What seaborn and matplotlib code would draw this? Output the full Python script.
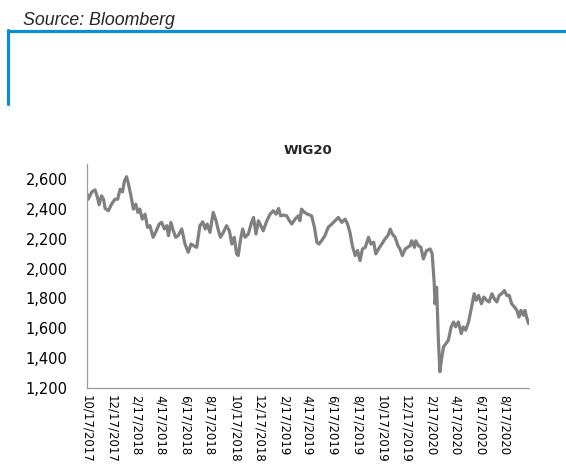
import matplotlib
matplotlib.use("Agg")
import matplotlib.pyplot as plt
from matplotlib.lines import Line2D
import seaborn as sns
import pandas as pd

# ---------------- data ----------------
dates = [
    "2017-10-17", "2017-10-20", "2017-10-29", "2017-11-06", "2017-11-12", "2017-11-16",
    "2017-11-22", "2017-11-27", "2017-12-01", "2017-12-09", "2017-12-16", "2017-12-25",
    "2018-01-01", "2018-01-07", "2018-01-13", "2018-01-18", "2018-01-23", "2018-01-27",
    "2018-02-03", "2018-02-09", "2018-02-15", "2018-02-20", "2018-02-25", "2018-03-03",
    "2018-03-10", "2018-03-16", "2018-03-22", "2018-03-30", "2018-04-05", "2018-04-14",
    "2018-04-20", "2018-04-27", "2018-05-03", "2018-05-07", "2018-05-13", "2018-05-19",
    "2018-05-25", "2018-05-31", "2018-06-09", "2018-06-17", "2018-06-25", "2018-07-02",
    "2018-07-08", "2018-07-16", "2018-07-24", "2018-07-31", "2018-08-06", "2018-08-11",
    "2018-08-18", "2018-08-26", "2018-09-02", "2018-09-08", "2018-09-13", "2018-09-20",
    "2018-09-28", "2018-10-05", "2018-10-11", "2018-10-17", "2018-10-23", "2018-10-27",
    "2018-11-02", "2018-11-07", "2018-11-13", "2018-11-21", "2018-11-29", "2018-12-04",
    "2018-12-10", "2018-12-16", "2018-12-22", "2018-12-28", "2019-01-06", "2019-01-14",
    "2019-01-22", "2019-01-29", "2019-02-04", "2019-02-09", "2019-02-16", "2019-02-24",
    "2019-03-03", "2019-03-09", "2019-03-17", "2019-03-25", "2019-03-29", "2019-04-02",
    "2019-04-09", "2019-04-17", "2019-04-27", "2019-05-04", "2019-05-10", "2019-05-15",
    "2019-05-22", "2019-05-30", "2019-06-07", "2019-06-16", "2019-06-24", "2019-07-02",
    "2019-07-11", "2019-07-19", "2019-07-25", "2019-07-31", "2019-08-06", "2019-08-13",
    "2019-08-19", "2019-08-25", "2019-08-31", "2019-09-07", "2019-09-15", "2019-09-21",
    "2019-09-28", "2019-10-03", "2019-10-10", "2019-10-18", "2019-10-26", "2019-11-02",
    "2019-11-08", "2019-11-13", "2019-11-20", "2019-11-27", "2019-12-02", "2019-12-08",
    "2019-12-15", "2019-12-27", "2019-12-31", "2020-01-07", "2020-01-10", "2020-01-17",
    "2020-01-23", "2020-01-29", "2020-02-06", "2020-02-15", "2020-02-20", "2020-02-25",
    "2020-02-27", "2020-03-02", "2020-03-06", "2020-03-10", "2020-03-15", "2020-03-19",
    "2020-03-25", "2020-03-31", "2020-04-07", "2020-04-13", "2020-04-18", "2020-04-25",
    "2020-05-02", "2020-05-07", "2020-05-13", "2020-05-20", "2020-05-26", "2020-06-03",
    "2020-06-08", "2020-06-14", "2020-06-21", "2020-06-27", "2020-07-04", "2020-07-10",
    "2020-07-17", "2020-07-23", "2020-07-29", "2020-08-04", "2020-08-10", "2020-08-17",
    "2020-08-23", "2020-08-29", "2020-09-04", "2020-09-11", "2020-09-17", "2020-09-22",
    "2020-09-27", "2020-10-03", "2020-10-07", "2020-10-11", "2020-10-16",
]
wig20 = [
    2500, 2464, 2513, 2527, 2476, 2427,
    2487, 2464, 2402, 2387, 2427, 2464,
    2464, 2531, 2513, 2587, 2615, 2576,
    2487, 2398, 2431, 2376, 2398, 2331,
    2364, 2276, 2287, 2209, 2242, 2298,
    2309, 2265, 2287, 2220, 2309, 2253,
    2209, 2220, 2265, 2164, 2109, 2164,
    2153, 2142, 2287, 2313, 2265, 2298,
    2242, 2376, 2320, 2253, 2209, 2242,
    2287, 2253, 2164, 2209, 2098, 2087,
    2198, 2265, 2209, 2231, 2309, 2342,
    2231, 2320, 2287, 2253, 2320, 2364,
    2387, 2364, 2402, 2353, 2358, 2353,
    2320, 2298, 2331, 2353, 2320, 2398,
    2376, 2364, 2353, 2276, 2176, 2164,
    2187, 2220, 2276, 2298, 2320, 2342,
    2309, 2331, 2298, 2242, 2153, 2087,
    2120, 2053, 2131, 2142, 2209, 2164,
    2176, 2098, 2131, 2164, 2198, 2220,
    2264, 2231, 2209, 2153, 2131, 2087,
    2131, 2153, 2186, 2142, 2186, 2153,
    2142, 2064, 2120, 2131, 2098, 1898,
    1764, 1875, 1542, 1309, 1409, 1475,
    1498, 1520, 1609, 1642, 1609, 1642,
    1564, 1609, 1587, 1642, 1720, 1831,
    1787, 1820, 1764, 1809, 1787, 1776,
    1831, 1798, 1776, 1820, 1831, 1853,
    1820, 1820, 1764, 1742, 1720, 1675,
    1720, 1687, 1720, 1675, 1631,
]

x_tick_dates = [
    "2017-10-17", "2017-12-17", "2018-02-17", "2018-04-17", "2018-06-17", "2018-08-17",
    "2018-10-17", "2018-12-17", "2019-02-17", "2019-04-17", "2019-06-17", "2019-08-17",
    "2019-10-17", "2019-12-17", "2020-02-17", "2020-04-17", "2020-06-17", "2020-08-17",
    "2020-10-17",
]
x_tick_labels = [
    "10/17/2017", "12/17/2017", "2/17/2018", "4/17/2018", "6/17/2018", "8/17/2018",
    "10/17/2018", "12/17/2018", "2/17/2019", "4/17/2019", "6/17/2019", "8/17/2019",
    "10/17/2019", "12/17/2019", "2/17/2020", "4/17/2020", "6/17/2020", "8/17/2020",
    "",
]
y_ticks = [1200, 1400, 1600, 1800, 2000, 2200, 2400, 2600]
y_tick_labels = ["1,200", "1,400", "1,600", "1,800", "2,000", "2,200", "2,400", "2,600"]

title = "WIG20"
source = "Source: Bloomberg"

# ---------------- plot ----------------
sns.set_style("white")
plt.rcParams["font.family"] = ["DejaVu Sans"]

df = pd.DataFrame({"date": pd.to_datetime(dates), "value": wig20})

fig = plt.figure(figsize=(5.66, 4.65), dpi=100)
ax = fig.add_axes([87 / 566, 1 - 388 / 465, (529 - 87) / 566, (388 - 164) / 465])

sns.lineplot(data=df, x="date", y="value", ax=ax, color="#808080", linewidth=2.3)

ax.set_xlim(pd.Timestamp(x_tick_dates[0]), pd.Timestamp(x_tick_dates[-1]))
ax.set_ylim(1200, 2700)

ax.set_xticks(pd.to_datetime(x_tick_dates))
ax.set_xticklabels(x_tick_labels, rotation=270, fontsize=8.5, color="#000000",
                   va="top", ha="center")
ax.set_yticks(y_ticks)
ax.set_yticklabels(y_tick_labels, fontsize=10.5, color="#000000")

ax.tick_params(axis="x", length=4, width=0.8, color="#9a9a9a", pad=1, direction="out")
ax.tick_params(axis="y", length=0, pad=14)

for side in ["top", "right"]:
    ax.spines[side].set_visible(False)
for side in ["left", "bottom"]:
    ax.spines[side].set_color("#9a9a9a")
    ax.spines[side].set_linewidth(0.9)

ax.set_xlabel("")
ax.set_ylabel("")
ax.grid(False)
ax.set_title(title, fontsize=9.5, fontweight="bold", pad=7)

fig.text(23 / 566, 1 - 25 / 465, source, fontsize=12.8, style="italic",
         family=["Liberation Sans", "DejaVu Sans"], ha="left", va="baseline")

blue = "#0A90D2"
fig.add_artist(Line2D([8 / 566, 1.0], [1 - 31 / 465, 1 - 31 / 465],
                      color=blue, linewidth=2.3, transform=fig.transFigure))
fig.add_artist(Line2D([8 / 566, 8 / 566], [1 - 30 / 465, 1 - 104 / 465],
                      color=blue, linewidth=2.3, transform=fig.transFigure))

fig.savefig("out.png", dpi=100)
